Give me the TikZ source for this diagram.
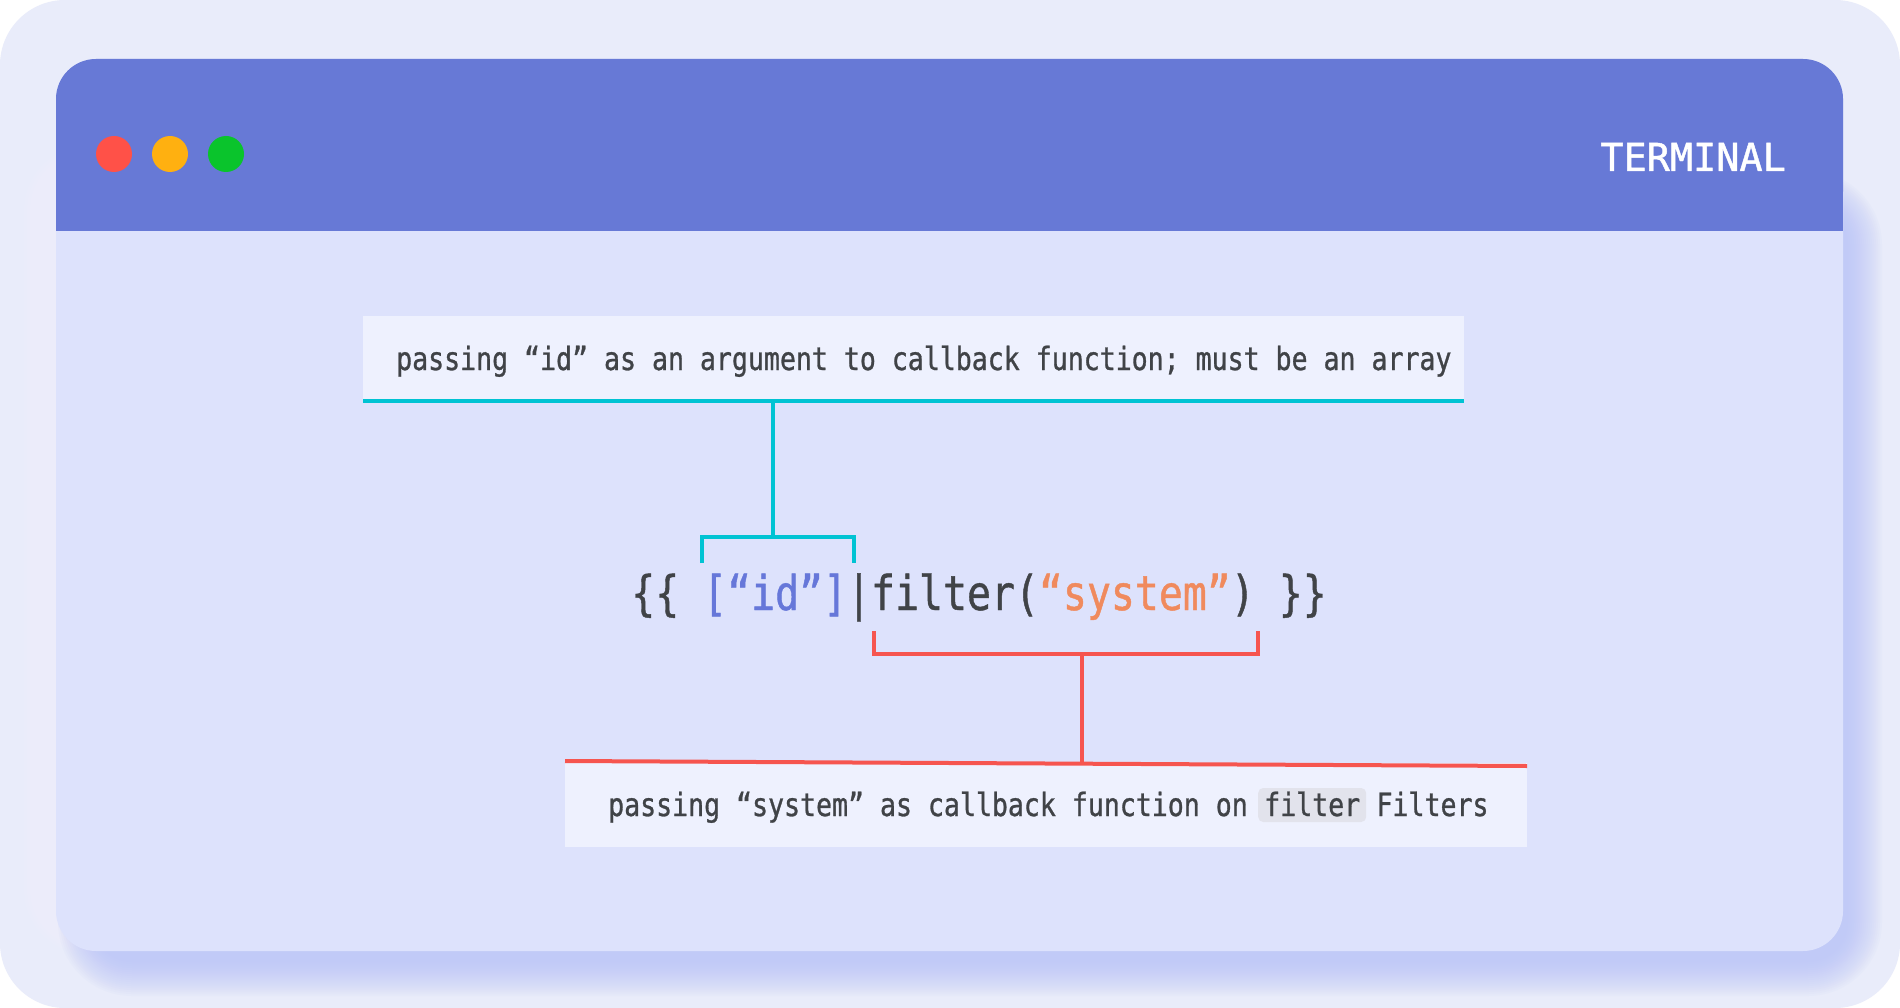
\documentclass[tikz,border=0pt]{standalone}
\usepackage{fontspec}
\newfontfamily\annofont[FakeStretch=0.83,FakeBold=0.9]{DejaVu Sans Mono}
\newfontfamily\termfont[FakeBold=1.2]{DejaVu Sans Mono}
\definecolor{pagecol}{HTML}{E9ECFA}
\definecolor{bodycol}{HTML}{DDE2FC}
\definecolor{titlecol}{HTML}{6779D6}
\definecolor{boxcol}{HTML}{EEF1FE}
\definecolor{shadowcol}{HTML}{B4BFF7}
\definecolor{cyancol}{HTML}{00C3D3}
\definecolor{redcol}{HTML}{F6554F}
\definecolor{textcol}{HTML}{404347}
\definecolor{idcol}{HTML}{6677D9}
\definecolor{syscol}{HTML}{F08A5D}
\definecolor{hlcol}{HTML}{E2E3EC}
\definecolor{dotred}{HTML}{FF5148}
\definecolor{dotorange}{HTML}{FFB010}
\definecolor{dotgreen}{HTML}{0AC42C}
\tikzset{
  dotnode/.style={circle, minimum size=36pt, inner sep=0pt},
  annobox/.style={fill=boxcol, inner sep=0pt, anchor=north west},
  annotext/.style={inner sep=0pt, anchor=base west, text=textcol, font=\annofont\fontsize{32pt}{36pt}\selectfont},
  cyanline/.style={draw=cyancol, line width=4pt, line join=miter},
  redline/.style={draw=redcol, line width=4pt, line join=miter},
}
\begin{document}
\begin{tikzpicture}[x=1pt,y=-1pt]
\useasboundingbox (0,0) rectangle (1900,1008);
% page
\fill[white] (0,0) rectangle (1900,1008);
\fill[pagecol, rounded corners=65pt] (0,0) rectangle (1900,1008);
% light glow on the left
\foreach \i in {0,3,...,24} {
  \pgfmathsetmacro\rr{40+\i}
  \fill[white, opacity=0.05, rounded corners=\rr pt] ({48-\i},{170-\i}) rectangle ({400+\i},{930+\i});
}
% shadow bottom/right
\foreach \i in {0,2,...,34} {
  \pgfmathsetmacro\rr{40+\i}
  \fill[shadowcol, opacity=0.06, rounded corners=\rr pt] ({92-\i},{205-\i}) rectangle ({1848+\i},{962+\i});
}
% window
\fill[bodycol, rounded corners=40pt] (56,59) rectangle (1843,951);
\fill[titlecol, rounded corners=40pt] (56,59) rectangle (1843,231);
\fill[titlecol] (56,180) rectangle (1843,231);
% dots
\node[dotnode, fill=dotred] (dr) at (114,154) {};
\node[dotnode, fill=dotorange] (do) at (170,154) {};
\node[dotnode, fill=dotgreen] (dg) at (226,154) {};
\node[inner sep=0pt, anchor=base east, text=white, font=\termfont\fontsize{38.5pt}{44pt}\selectfont] (term) at (1786,171) {TERMINAL};
% top annotation
\node[annobox, minimum width=1101pt, minimum height=85pt] (topbox) at (363,316) {};
\draw[cyanline] (topbox.south west) -- (topbox.south east);
\node[annotext] (toptext) at (396,370) {passing “id” as an argument to callback function; must be an array};
% code
\node[inner sep=0pt, anchor=base west, text=textcol, font=\annofont\fontsize{48pt}{56pt}\selectfont] (code) at (631,610)
  {\{\{ \textcolor{idcol}{[“id”]}|filter(\textcolor{syscol}{“system”}) \}\}};
% cyan connector
\coordinate (cyTop) at (773,401);
\coordinate (cyMid) at (773,537);
\coordinate (cyL) at (702,563);
\coordinate (cyR) at (854,563);
\draw[cyanline] (cyTop) -- (cyMid);
\draw[cyanline] (cyL) |- (cyMid) -| (cyR);
% bottom annotation
\node[annobox, minimum width=962pt, minimum height=84pt] (botbox) at (565,763) {};
\coordinate (rlL) at (565,761);
\coordinate (rlR) at (1527,766);
\draw[redline] (rlL) -- (rlR);
\node[annotext] (bt1) at (608,816) {passing “system” as callback function on};
\node[annotext, fill=hlcol, rounded corners=5pt, inner xsep=6pt, inner ysep=6pt, text height=22pt, text depth=0pt, xshift=10pt] (hl) at (bt1.base east) {filter};
\node[annotext, xshift=10pt] (bt2) at (hl.base east) {Filters};
% red connector
\coordinate (rdL) at (874,631);
\coordinate (rdR) at (1258,631);
\coordinate (rdMid) at (1082,654);
\coordinate (rdBot) at (1082,763);
\draw[redline] (rdL) |- (rdMid) -| (rdR);
\draw[redline] (rdMid) -- (rdBot);
\end{tikzpicture}
\end{document}
